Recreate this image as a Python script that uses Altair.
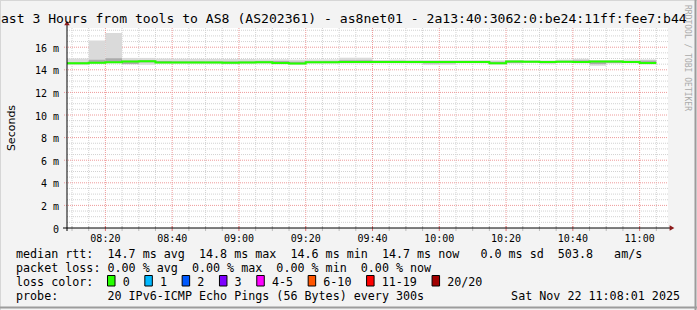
import altair as alt
import pandas as pd

# ---------------- data ----------------
step_end = ["08:10", "08:15", "08:20", "08:25", "08:30", "08:35", "08:40", "08:45", "08:50", "08:55",
            "09:00", "09:05", "09:10", "09:15", "09:20", "09:25", "09:30", "09:35", "09:40", "09:45",
            "09:50", "09:55", "10:00", "10:05", "10:10", "10:15", "10:20", "10:25", "10:30", "10:35",
            "10:40", "10:45", "10:50", "10:55", "11:00", "11:05"]
median_ms = [14.58, 14.58, 14.63, 14.67, 14.73, 14.76, 14.65, 14.64, 14.64, 14.64,
             14.63, 14.65, 14.66, 14.60, 14.56, 14.66, 14.67, 14.68, 14.69, 14.69,
             14.70, 14.69, 14.69, 14.70, 14.69, 14.69, 14.57, 14.74, 14.72, 14.68,
             14.71, 14.69, 14.74, 14.74, 14.70, 14.60]
smoke_lo = [14.42, 14.42, 14.52, 14.55, 14.50, 14.45, 14.52, 14.52, 14.52, 14.52,
            14.50, 14.52, 14.53, 14.48, 14.45, 14.54, 14.55, 14.56, 14.56, 14.57,
            14.57, 14.56, 14.42, 14.45, 14.57, 14.57, 14.45, 14.55, 14.60, 14.50,
            14.60, 14.57, 14.36, 14.55, 14.58, 14.47]
smoke_hi = [15.00, 15.00, 16.60, 17.25, 15.05, 15.05, 15.00, 14.98, 14.97, 14.97,
            14.96, 14.95, 14.93, 14.93, 14.90, 14.92, 14.92, 15.07, 15.07, 14.86,
            14.90, 14.88, 14.86, 14.86, 14.86, 14.86, 14.84, 14.86, 14.86, 14.84,
            14.90, 14.98, 14.86, 14.85, 14.92, 14.92]
core_lo = [14.52, 14.52, 14.58, 14.62, 14.50, 14.66, 14.60, 14.60, 14.60, 14.60,
           14.58, 14.60, 14.60, 14.55, 14.50, 14.60, 14.62, 14.63, 14.64, 14.64,
           14.65, 14.64, 14.56, 14.58, 14.64, 14.64, 14.52, 14.60, 14.66, 14.60,
           14.66, 14.64, 14.50, 14.60, 14.65, 14.55]
core_hi = [14.66, 14.66, 14.90, 15.02, 14.82, 14.85, 14.78, 14.75, 14.75, 14.74,
           14.74, 14.74, 14.76, 14.78, 14.72, 14.74, 14.75, 14.85, 14.85, 14.80,
           14.80, 14.78, 14.76, 14.76, 14.76, 14.76, 14.72, 14.80, 14.78, 14.74,
           14.80, 14.84, 14.80, 14.80, 14.78, 14.82]

y_major = [0, 2, 4, 6, 8, 10, 12, 14, 16]
y_minor = [0.5, 1, 1.5, 2.5, 3, 3.5, 4.5, 5, 5.5, 6.5, 7, 7.5, 8.5, 9, 9.5, 10.5, 11, 11.5,
           12.5, 13, 13.5, 14.5, 15, 15.5, 16.5, 17, 17.5]
x_major = ["08:20", "08:40", "09:00", "09:20", "09:40", "10:00", "10:20", "10:40", "11:00"]
x_minor = ["08:10", "08:15", "08:25", "08:30", "08:35", "08:45", "08:50", "08:55", "09:05", "09:10",
           "09:15", "09:25", "09:30", "09:35", "09:45", "09:50", "09:55", "10:05", "10:10", "10:15",
           "10:25", "10:30", "10:35", "10:45", "10:50", "10:55", "11:05"]

title_text = "Last 3 Hours from tools to AS8 (AS202361) - as8net01 - 2a13:40:3062:0:be24:11ff:fee7:b44"
footer_lines = [
    "median rtt:  14.7 ms avg  14.8 ms max  14.6 ms min  14.7 ms now   0.0 ms sd  503.8   am/s",
    "packet loss: 0.00 % avg  0.00 % max  0.00 % min  0.00 % now",
    "loss color:",
    "probe:       20 IPv6-ICMP Echo Pings (56 Bytes) every 300s",
]
date_text = "Sat Nov 22 11:08:01 2025"
loss_labels = ["0", "1", "2", "3", "4-5", "6-10", "11-19", "20/20"]
loss_colors = ["#26ff00", "#00b8ff", "#0059ff", "#7e00ff", "#ff00ff", "#ff5500", "#ff0000", "#a10000"]


def tmin(s):
    h, m = s.split(":")
    return int(h) * 60 + int(m)


# ---------------- layout ----------------
W, H = 601, 200
PL, PT = 67, 28
MONO = "DejaVu Sans Mono"
CW = 7.04  # char width of footer font
NB = "\u00a0"

xs = alt.Scale(domain=[488.5, 668.5], nice=False, zero=False)
ys = alt.Scale(domain=[0, 17.7], nice=False, zero=False)

steps = pd.DataFrame({
    "t1": [tmin(s) for s in step_end],
    "med": median_ms, "lo": smoke_lo, "hi": smoke_hi, "clo": core_lo, "chi": core_hi,
})
steps["t0"] = steps["t1"] - 5

line_rows = []
for i, r in steps.iterrows():
    line_rows.append({"t": r["t0"], "v": r["med"], "o": 2 * i})
    line_rows.append({"t": r["t1"], "v": r["med"], "o": 2 * i + 1})
line_df = pd.DataFrame(line_rows)

one = pd.DataFrame({"k": [0]})


def txt(s, px, py, **kw):
    return alt.Chart(one).mark_text(**kw).encode(
        x=alt.value(px), y=alt.value(py), text=alt.value(s.replace(" ", NB)))


def rule(x, y, x2=None, y2=None, **kw):
    enc = {"x": alt.value(x), "y": alt.value(y)}
    if x2 is not None:
        enc["x2"] = alt.value(x2)
    if y2 is not None:
        enc["y2"] = alt.value(y2)
    return alt.Chart(one).mark_rule(**kw).encode(**enc)


def X(f):
    return alt.X(f, scale=xs, axis=None)


def Y(f):
    return alt.Y(f, scale=ys, axis=None)


layers = []

# grid
layers.append(alt.Chart(pd.DataFrame({"v": y_minor})).mark_rule(
    color="#d2d2d2", strokeDash=[1, 1], strokeWidth=1).encode(
    y=Y("v:Q"), x=alt.value(0), x2=alt.value(W)))
layers.append(alt.Chart(pd.DataFrame({"v": [tmin(s) for s in x_minor]})).mark_rule(
    color="#d2d2d2", strokeDash=[1, 1], strokeWidth=1).encode(
    x=X("v:Q"), y=alt.value(0), y2=alt.value(H)))
layers.append(alt.Chart(pd.DataFrame({"v": y_major[1:]})).mark_rule(
    color="#ee9a9a", strokeDash=[1, 1], strokeWidth=1).encode(
    y=Y("v:Q"), x=alt.value(-3), x2=alt.value(W)))
layers.append(alt.Chart(pd.DataFrame({"v": [tmin(s) for s in x_major]})).mark_rule(
    color="#ee9a9a", strokeDash=[1, 1], strokeWidth=1).encode(
    x=X("v:Q"), y=alt.value(0), y2=alt.value(H)))
# small ticks below x axis
layers.append(alt.Chart(pd.DataFrame({"v": [tmin(s) for s in x_minor]})).mark_rule(
    color="#bbbbbb", strokeWidth=1).encode(
    x=X("v:Q"), y=alt.value(H - 2), y2=alt.value(H + 3)))
layers.append(alt.Chart(pd.DataFrame({"v": [tmin(s) for s in x_major]})).mark_rule(
    color="#e07070", strokeWidth=1).encode(
    x=X("v:Q"), y=alt.value(H - 2), y2=alt.value(H + 3)))

# smoke
layers.append(alt.Chart(steps).mark_rect(clip=True, color="#dadada").encode(
    x=X("t0:Q"), x2="t1:Q", y=Y("lo:Q"), y2="hi:Q"))
layers.append(alt.Chart(steps).mark_rect(clip=True, color="#ababab").encode(
    x=X("t0:Q"), x2="t1:Q", y=Y("clo:Q"), y2="chi:Q"))
# median line
layers.append(alt.Chart(line_df).mark_line(clip=True, color="#26ff00", strokeWidth=2).encode(
    x=X("t:Q"), y=Y("v:Q"), order="o:Q"))

# axis labels (drawn through the scales)
xlab = pd.DataFrame({"t": [tmin(s) for s in x_major], "lab": x_major})
layers.append(alt.Chart(xlab).mark_text(font=MONO, fontSize=10, align="center",
                                        baseline="alphabetic", color="#000000").encode(
    x=X("t:Q"), y=alt.value(H + 13.7), text="lab:N"))
ylab = pd.DataFrame({"v": y_major,
                     "lab": [("0" + NB + NB) if v == 0 else f"{v}{NB}m" for v in y_major]})
layers.append(alt.Chart(ylab).mark_text(font=MONO, fontSize=10, align="right", dy=4.5,
                                        baseline="alphabetic", color="#000000").encode(
    y=Y("v:Q"), x=alt.value(-8), text="lab:N"))

# axis lines and arrows
layers.append(rule(0, -4, y2=H + 3, color="#000000", strokeWidth=1))
layers.append(rule(-4, H, x2=W + 2, color="#000000", strokeWidth=1))
layers.append(alt.Chart(one).mark_point(shape="triangle-up", filled=True, size=30,
                                        color="#8b1a1a", opacity=1).encode(
    x=alt.value(0), y=alt.value(-5)))
layers.append(alt.Chart(one).mark_point(shape="triangle-right", filled=True, size=30,
                                        color="#8b1a1a", opacity=1).encode(
    x=alt.value(W + 4), y=alt.value(H)))

# texts
layers.append(txt(title_text, -7.0 - PL, 23.3 - PT, font=MONO, fontSize=13.1, align="left",
                  baseline="alphabetic", color="#000000"))
layers.append(alt.Chart(one).mark_text(font="DejaVu Sans", fontSize=11, angle=270, align="center",
                                       baseline="alphabetic", color="#000000").encode(
    x=alt.value(15 - PL), y=alt.value(128 - PT), text=alt.value("Seconds")))
layers.append(alt.Chart(one).mark_text(font=MONO, fontSize=8, angle=90, align="left",
                                       baseline="alphabetic", color="#aaaaaa").encode(
    x=alt.value(685 - PL), y=alt.value(5 - PT), text=alt.value("RRDTOOL / TOBI OETIKER")))

row_base = [258.3, 271.8, 286.0, 300.0]
for s, b in zip(footer_lines, row_base):
    layers.append(txt(s, 16 - PL, b - PT, font=MONO, fontSize=11.7, align="left",
                      baseline="alphabetic", color="#000000"))
layers.append(txt(date_text, 680 - PL, row_base[3] - PT, font=MONO, fontSize=11.7, align="right",
                  baseline="alphabetic", color="#000000"))

# loss colour legend
pos = 13.0
for lab, col in zip(loss_labels, loss_colors):
    bx = 16 + pos * CW
    layers.append(alt.Chart(one).mark_rect(color=col, stroke="#000000", strokeWidth=1).encode(
        x=alt.value(bx - PL), x2=alt.value(bx + 7.5 - PL),
        y=alt.value(275.5 - PT), y2=alt.value(286 - PT)))
    lx = pos + 2.15
    layers.append(txt(lab, 16 + lx * CW - PL, row_base[2] - PT, font=MONO, fontSize=11.7,
                      align="left", baseline="alphabetic", color="#000000"))
    pos = lx + len(lab) + 2.15

# frame of the image
layers.append(rule(-PL, -PT + 0.5, x2=697 - PL, color="#d6d6d6", strokeWidth=1))
layers.append(rule(-PL + 0.5, -PT, y2=310 - PT, color="#d6d6d6", strokeWidth=1))
layers.append(rule(695.5 - PL, -PT, y2=310 - PT, color="#9c9c9c", strokeWidth=2))
layers.append(rule(-PL, 307.5 - PT, x2=697 - PL, color="#9c9c9c", strokeWidth=2))

chart = alt.layer(*layers).properties(
    width=W, height=H,
    autosize=alt.AutoSizeParams(type="none"),
    padding={"left": PL, "top": PT, "right": 697 - PL - W, "bottom": 310 - PT - H},
    background="#f3f3f3",
).configure_view(stroke=None, fill="#ffffff")

chart.save("out.html", embed_options={"renderer": "svg", "actions": False})
